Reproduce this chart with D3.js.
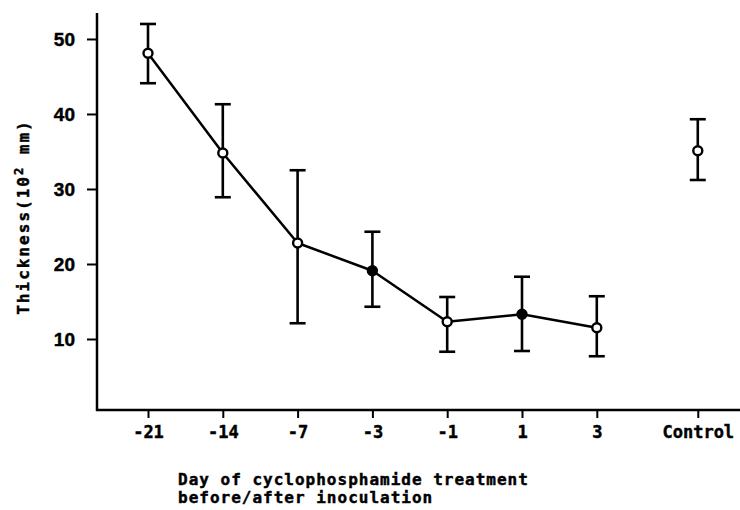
<!DOCTYPE html>
<html>
<head>
<meta charset="utf-8">
<script src="https://cdn.jsdelivr.net/npm/d3@7"></script>
<style>
  body { margin: 0; background: #fff; }
  svg { display: block; }
  text { stroke: #000; stroke-width: 0.45px; }
</style>
</head>
<body>
<main></main>
<script>
// days of treatment, with the control group set apart on the right
const days = ["-21", "-14", "-7", "-3", "-1", "1", "3"];
const daySlots = [0, 1, 2, 3, 4, 5, 6];
const thickness = [48.1, 34.8, 22.8, 19.1, 12.3, 13.3, 11.5];
const upper = [52.0, 41.3, 32.5, 24.3, 15.6, 18.3, 15.7];
const lower = [44.1, 28.9, 12.1, 14.3, 8.3, 8.4, 7.7];
const filled = [false, false, false, true, false, true, false];

const controlLabel = "Control";
const controlSlot = 7.35;
const controlValue = 35.1;
const controlUpper = 39.3;
const controlLower = 31.2;

const yTicks = [10, 20, 30, 40, 50];

const svg = d3.select("main").append("svg")
  .attr("width", 740).attr("height", 510);
const g = svg.append("g");

const x = d3.scaleLinear().domain([0, 6]).range([148, 596.8]);
const y = d3.scaleLinear().domain([0, 53.33]).range([414, 14]);

const axisX = 97, axisY = 410;
const mono = "'DejaVu Sans Mono', monospace";

// y axis
const yAxis = g.append("g")
  .attr("transform", `translate(${axisX},0)`)
  .call(d3.axisLeft(y).tickValues(yTicks).tickSize(10).tickPadding(12))
  .call(a => a.select(".domain").remove());
yAxis.append("line")
  .attr("x1", 0).attr("x2", 0)
  .attr("y1", y.range()[1] - 1).attr("y2", axisY + 1)
  .attr("stroke", "#000").attr("stroke-width", 2.5);
yAxis.selectAll(".tick line").attr("stroke-width", 2);
yAxis.selectAll(".tick text")
  .attr("fill", "#000")
  .style("font", "bold 19px 'Liberation Sans', Arial, sans-serif");

// x axis
const tickCats = days.concat([controlLabel]);
const tickSlots = daySlots.concat([controlSlot]);
const xAxis = g.append("g")
  .attr("transform", `translate(0,${axisY})`)
  .call(d3.axisBottom(x).tickValues(tickSlots)
    .tickFormat((d, i) => tickCats[i]).tickSize(8).tickPadding(8))
  .call(a => a.select(".domain").remove());
xAxis.append("line")
  .attr("x1", axisX - 1).attr("x2", 740)
  .attr("y1", 0).attr("y2", 0)
  .attr("stroke", "#000").attr("stroke-width", 2.5);
xAxis.selectAll(".tick line").attr("stroke-width", 2);
xAxis.selectAll(".tick text")
  .attr("fill", "#000")
  .style("font", `bold 17px ${mono}`);

// axis titles
g.append("text")
  .attr("transform", "translate(29,217) rotate(-90)")
  .attr("text-anchor", "middle")
  .style("font", `bold 16px ${mono}`)
  .style("letter-spacing", "2px")
  .call(t => {
    t.append("tspan").text("Thickness(10");
    t.append("tspan").attr("dy", -6).style("font-size", "12px").text("2");
    t.append("tspan").attr("dy", 6).text(" mm)");
  });

const xTitle = g.append("text")
  .style("font", `bold 16px ${mono}`)
  .style("letter-spacing", "1px");
xTitle.append("tspan").attr("x", 178).attr("y", 485).text("Day of cyclophosphamide treatment");
xTitle.append("tspan").attr("x", 178).attr("y", 503).text("before/after inoculation");

// series data
const pts = days.map((d, i) => ({
  slot: daySlots[i], v: thickness[i], hi: upper[i], lo: lower[i], filled: filled[i]
}));
const ctrl = { slot: controlSlot, v: controlValue, hi: controlUpper, lo: controlLower, filled: false };

const line = d3.line().x(d => x(d.slot)).y(d => y(d.v));
g.append("path")
  .datum(pts)
  .attr("fill", "none")
  .attr("stroke", "#000")
  .attr("stroke-width", 2.5)
  .attr("stroke-linejoin", "round")
  .attr("d", line);

const all = pts.concat([ctrl]);
const capW = 8;
const eb = g.append("g").attr("stroke", "#000").attr("stroke-width", 2.6);
eb.selectAll(".stem").data(all).join("line")
  .attr("x1", d => x(d.slot)).attr("x2", d => x(d.slot))
  .attr("y1", d => y(d.hi)).attr("y2", d => y(d.lo));
eb.selectAll(".capHi").data(all).join("line")
  .attr("x1", d => x(d.slot) - capW).attr("x2", d => x(d.slot) + capW)
  .attr("y1", d => y(d.hi)).attr("y2", d => y(d.hi));
eb.selectAll(".capLo").data(all).join("line")
  .attr("x1", d => x(d.slot) - capW).attr("x2", d => x(d.slot) + capW)
  .attr("y1", d => y(d.lo)).attr("y2", d => y(d.lo));

g.selectAll("circle.pt").data(all).join("circle")
  .attr("class", "pt")
  .attr("cx", d => x(d.slot)).attr("cy", d => y(d.v))
  .attr("r", 4.5)
  .attr("fill", d => d.filled ? "#000" : "#fff")
  .attr("stroke", "#000")
  .attr("stroke-width", 2.4);
</script>
</body>
</html>
